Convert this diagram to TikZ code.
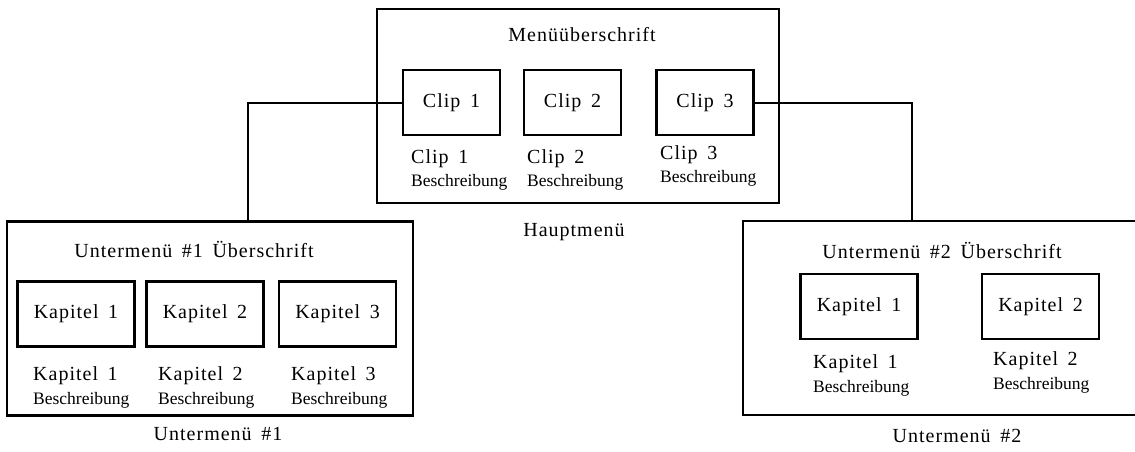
\documentclass[tikz,border=0pt]{standalone}
\usepackage{fontspec}
\setmainfont{Liberation Serif}[LetterSpace=5,WordSpace=1.6]
\newfontfamily\descfont{Liberation Serif}
\newcommand{\beschr}{{\descfont\fontsize{17.5}{20}\selectfont Beschreibung}}

\tikzset{
  menubox/.style={draw, line width=2.4pt, inner sep=0pt},
  clipbox/.style={draw, line width=2.4pt, inner sep=0pt, minimum width=97pt, minimum height=65pt},
  kapbox/.style={draw, line width=2.4pt, inner sep=0pt, minimum width=117pt, minimum height=65pt},
  desc/.style={align=left, inner sep=0pt, anchor=base west},
  title/.style={inner sep=0pt, anchor=base},
  link/.style={line width=2pt}
}

\begin{document}
\begin{tikzpicture}[x=1pt,y=-1pt,font=\fontsize{20}{24}\selectfont]
\useasboundingbox (0,0) rectangle (1135,451);
%
% Hauptmenue
\node [menubox, minimum width=402pt, minimum height=194pt] (haupt) at (578,106) {};
\node [title] (hauptkopf) at (582,41) {Menüüberschrift};
\node [clipbox] (clip1) at (451.5,102.5) {Clip 1};
\node [clipbox] (clip2) at (572.5,102.5) {Clip 2};
\node [clipbox] (clip3) at (705,102.5) {Clip 3};
\node [desc] (cdesc1) at (411,186) {Clip 1\\[-1pt]\beschr};
\node [desc] (cdesc2) at (527,186) {Clip 2\\[-1pt]\beschr};
\node [desc] (cdesc3) at (660,182) {Clip 3\\[-1pt]\beschr};
\node [title] (hauptname) at (574,236) {Hauptmenü};
%
% Untermenue 1
\node [menubox, minimum width=406pt, minimum height=194pt] (unter1) at (210,318.5) {};
\node [title] (unter1kopf) at (194,257) {Untermenü \#1 Überschrift};
\node [kapbox] (kap11) at (76,314) {Kapitel 1};
\node [kapbox] (kap12) at (205,314) {Kapitel 2};
\node [kapbox] (kap13) at (337.5,314) {Kapitel 3};
\node [desc] (kdesc11) at (33,404) {Kapitel 1\\[0pt]\beschr};
\node [desc] (kdesc12) at (158,404) {Kapitel 2\\[0pt]\beschr};
\node [desc] (kdesc13) at (291,404) {Kapitel 3\\[0pt]\beschr};
\node [title] (unter1name) at (218,440) {Untermenü \#1};
%
% Untermenue 2
\node [menubox, minimum width=400pt, minimum height=194pt] (unter2) at (943,318) {};
\node [title] (unter2kopf) at (942,258) {Untermenü \#2 Überschrift};
\node [kapbox] (kap21) at (859,306.5) {Kapitel 1};
\node [kapbox] (kap22) at (1040.5,306.5) {Kapitel 2};
\node [desc] (kdesc21) at (813,392) {Kapitel 1\\[0pt]\beschr};
\node [desc] (kdesc22) at (993,389) {Kapitel 2\\[0pt]\beschr};
\node [title] (unter2name) at (957,442) {Untermenü \#2};
%
% Verbindungen
\coordinate (knick1) at (248,0);
\coordinate (knick2) at (912,0);
\draw [link] (clip1.west) -| (unter1.north -| knick1);
\draw [link] (clip3.east) -| (unter2.north -| knick2);
%%%%%%%%%%%%%%%%%%%%%%%%%%%%%%%
\end{tikzpicture}
\end{document}
